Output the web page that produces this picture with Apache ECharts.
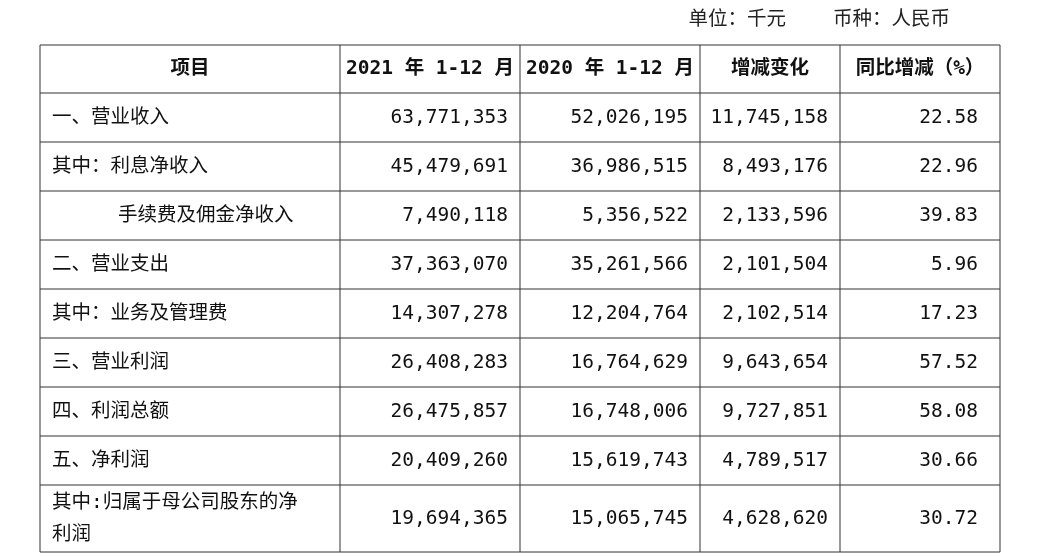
<!DOCTYPE html>
<html><head><meta charset="utf-8">
<script src="https://cdn.jsdelivr.net/npm/echarts@6/dist/echarts.min.js"></script>
<style>html,body{margin:0;background:#fff}#c{width:1051px;height:556px}</style>
</head><body><div id="c"></div>
<script>
const unitNote = '单位：千元    币种：人民币';
const headers = ['项目', '2021 年 1-12 月', '2020 年 1-12 月', '增减变化', '同比增减（%）'];
const items = ['一、营业收入', '其中：利息净收入', '手续费及佣金净收入', '二、营业支出', '其中：业务及管理费', '三、营业利润', '四、利润总额', '五、净利润', '其中:归属于母公司股东的净\n利润'];
const indent = [0, 0, 1, 0, 0, 0, 0, 0, 0];
const y2021 = ['63,771,353', '45,479,691', '7,490,118', '37,363,070', '14,307,278', '26,408,283', '26,475,857', '20,409,260', '19,694,365'];
const y2020 = ['52,026,195', '36,986,515', '5,356,522', '35,261,566', '12,204,764', '16,764,629', '16,748,006', '15,619,743', '15,065,745'];
const change = ['11,745,158', '8,493,176', '2,133,596', '2,101,504', '2,102,514', '9,643,654', '9,727,851', '4,789,517', '4,628,620'];
const pct = ['22.58', '22.96', '39.83', '5.96', '17.23', '57.52', '58.08', '30.66', '30.72'];

const colX = [40, 340, 520, 700, 840, 1000];
const rowY = [45, 93, 142, 191, 240, 289, 338, 387, 436, 485, 552];
const padR = [12, 12, 12, 22];
const font = '"DejaVu Sans Mono", "Noto Sans CJK SC", monospace';
const g = [];
g.push({type:'text', style:{text:unitNote, x:950, y:20, align:'right', verticalAlign:'middle', font:'19.5px '+font, fill:'#222'}});
rowY.forEach(y=>g.push({type:'line', shape:{x1:colX[0],y1:y,x2:colX[5],y2:y}, style:{stroke:'#333', lineWidth:1}}));
colX.forEach(x=>g.push({type:'line', shape:{x1:x,y1:rowY[0],x2:x,y2:rowY[rowY.length-1]}, style:{stroke:'#333', lineWidth:1}}));
headers.forEach((h,i)=>g.push({type:'text', style:{text:h, x:(colX[i]+colX[i+1])/2, y:(rowY[0]+rowY[1])/2, align:'center', verticalAlign:'middle', font:'bold 19.5px '+font, fill:'#111'}}));
const cols = [y2021, y2020, change, pct];
items.forEach((it,r)=>{
  const cy = (rowY[r+1]+rowY[r+2])/2;
  g.push({type:'text', style:{text:it, x:colX[0]+12+indent[r]*66, y:cy, align:'left', verticalAlign:'middle', font:'19.5px '+font, fill:'#111', lineHeight:32}});
  cols.forEach((arr,c)=>g.push({type:'text', style:{text:arr[r], x:colX[c+2]-padR[c], y:cy, align:'right', verticalAlign:'middle', font:'19.5px '+font, fill:'#111'}}));
});
const chart = echarts.init(document.getElementById('c'));
chart.setOption({backgroundColor:'#fff', graphic:{elements:g}});
</script></body></html>
